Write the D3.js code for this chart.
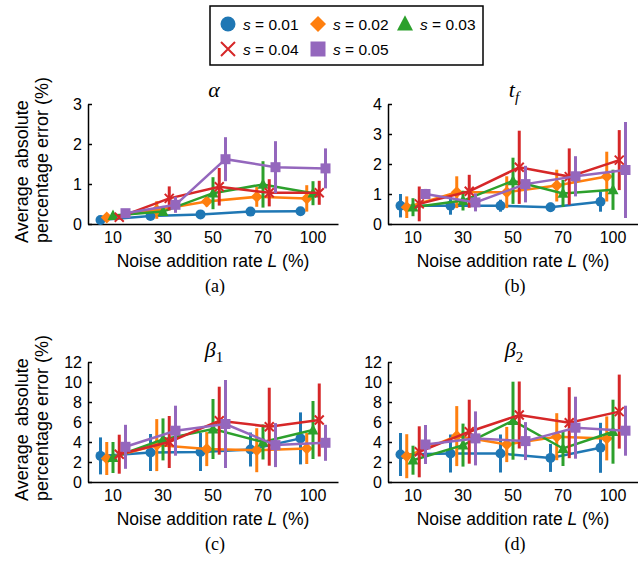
<!DOCTYPE html>
<html>
<head>
<meta charset="utf-8">
<script src="https://cdn.jsdelivr.net/npm/d3@7"></script>
<style>
  body { margin: 0; background: #fff; }
  svg text { font-family: "Liberation Sans", Arial, sans-serif; }
</style>
</head>
<body>
<svg width="638" height="565"></svg>
<script>
// Categories and series
var groups = ["10", "30", "50", "70", "100"];
var sValues = ["0.01", "0.02", "0.03", "0.04", "0.05"];
var colors = ["#1f77b4", "#ff7f0e", "#2ca02c", "#d62728", "#9467bd"];
var markers = ["circle", "diamond", "triangle", "cross", "square"];

// alpha (rows = s, cols = L)
var alphaMean = [
  [0.10, 0.20, 0.24, 0.31, 0.32],
  [0.16, 0.35, 0.56, 0.68, 0.64],
  [0.21, 0.31, 0.77, 0.99, 0.77],
  [0.17, 0.64, 0.93, 0.78, 0.78],
  [0.27, 0.48, 1.62, 1.42, 1.39]
];
var alphaErr = [
  [0.04, 0.05, 0.07, 0.10, 0.08],
  [0.06, 0.22, 0.12, 0.25, 0.33],
  [0.06, 0.10, 0.40, 0.58, 0.30],
  [0.05, 0.30, 0.47, 0.34, 0.30],
  [0.10, 0.20, 0.55, 0.65, 0.50]
];
// t_f
var tfMean = [
  [0.61, 0.61, 0.61, 0.56, 0.74],
  [0.56, 1.06, 1.06, 1.28, 1.58],
  [0.56, 0.78, 1.44, 1.02, 1.14],
  [0.67, 1.09, 1.89, 1.58, 2.13],
  [1.00, 0.72, 1.33, 1.59, 1.80]
];
var tfErr = [
  [0.39, 0.30, 0.20, 0.15, 0.33],
  [0.36, 0.53, 0.53, 0.53, 0.83],
  [0.30, 0.33, 0.77, 0.45, 0.67],
  [0.58, 0.55, 1.22, 0.94, 1.00],
  [0.17, 0.30, 0.61, 0.67, 1.60]
];
// beta_1
var beta1Mean = [
  [2.61, 2.95, 3.00, 3.25, 4.36],
  [2.35, 3.69, 3.29, 3.18, 3.35],
  [2.45, 4.26, 5.30, 4.00, 5.20],
  [2.78, 4.00, 6.13, 5.53, 6.20],
  [3.52, 5.13, 5.80, 3.69, 3.92]
];
var beta1Err = [
  [1.85, 1.85, 1.90, 1.70, 2.60],
  [1.65, 2.60, 1.70, 2.20, 1.55],
  [1.55, 2.10, 3.00, 1.75, 2.90],
  [1.95, 2.60, 3.40, 3.90, 3.65],
  [2.20, 2.50, 4.40, 2.20, 1.80]
];
// beta_2
var beta2Mean = [
  [2.75, 2.85, 2.85, 2.41, 3.42],
  [2.58, 4.59, 3.75, 4.53, 4.36],
  [2.18, 3.69, 6.13, 3.35, 5.03],
  [3.02, 5.03, 6.70, 5.93, 7.04],
  [3.75, 4.36, 4.09, 5.43, 5.13]
];
var beta2Err = [
  [2.15, 1.90, 1.90, 1.40, 2.50],
  [2.20, 3.00, 1.76, 2.35, 2.20],
  [1.45, 2.15, 3.90, 1.75, 3.20],
  [2.55, 3.20, 3.35, 3.55, 3.70],
  [1.95, 2.70, 1.90, 3.10, 2.50]
];

var svg = d3.select("svg");
var pw = 250, ph = 120;

var panels = [
  {x: 88, y: 104, mean: alphaMean, err: alphaErr, ymax: 3, ticks: [0, 1, 2, 3], title: "alpha", tag: "(a)", ylab: true},
  {x: 388, y: 104, mean: tfMean, err: tfErr, ymax: 4, ticks: [0, 1, 2, 3, 4], title: "tf", tag: "(b)", ylab: false},
  {x: 88, y: 362, mean: beta1Mean, err: beta1Err, ymax: 12, ticks: [0, 2, 4, 6, 8, 10, 12], title: "b1", tag: "(c)", ylab: true},
  {x: 388, y: 362, mean: beta2Mean, err: beta2Err, ymax: 12, ticks: [0, 2, 4, 6, 8, 10, 12], title: "b2", tag: "(d)", ylab: false}
];

var x0 = d3.scaleBand().domain(groups).range([0, pw]).padding(0);
var xOff = d3.scalePoint().domain(sValues).range([-12.5, 12.5]);

// marker shapes, r = half width
function markerPath(type, r) {
  if (type === "cross") {
    return "M" + (-r) + "," + (-r) + "L" + r + "," + r + "M" + (-r) + "," + r + "L" + r + "," + (-r);
  }
  if (type === "diamond") {
    return "M0," + (-r) + "L" + r + ",0L0," + r + "L" + (-r) + ",0Z";
  }
  if (type === "square") {
    return "M" + (-r) + "," + (-r) + "H" + r + "V" + r + "H" + (-r) + "Z";
  }
  if (type === "triangle") {
    return "M0," + (-r * 1.1) + "L" + r + "," + (r * 0.8) + "L" + (-r) + "," + (r * 0.8) + "Z";
  }
  return d3.symbol().type(d3.symbolCircle).size(Math.PI * r * r)();
}
var plotR = {circle: 5, diamond: 6, triangle: 5.5, cross: 4.5, square: 5};
var legR = {circle: 7.5, diamond: 8, triangle: 8, cross: 7, square: 7.5};

panels.forEach(function(p) {
  var g = svg.append("g").attr("transform", "translate(" + p.x + "," + p.y + ")");
  var y = d3.scaleLinear().domain([0, p.ymax]).range([ph, 0]);

  // axes
  var xa = g.append("g").attr("transform", "translate(0," + ph + ")")
    .call(d3.axisBottom(x0).tickSize(0).tickPadding(8));
  var ya = g.append("g")
    .call(d3.axisLeft(y).tickValues(p.ticks).tickFormat(d3.format("d"))
      .tickSizeInner(-4).tickSizeOuter(0).tickPadding(6));
  [xa, ya].forEach(function(a) {
    a.selectAll("text").attr("font-size", 16).attr("fill", "#000")
      .style("font-family", "'Liberation Sans', Arial, sans-serif");
    a.selectAll("path, line").attr("stroke", "#000").attr("stroke-width", 1.5);
  });

  // series
  sValues.forEach(function(s, i) {
    var pts = groups.map(function(gr, j) {
      return {x: x0(gr) + x0.bandwidth() / 2 + xOff(s), m: p.mean[i][j], e: p.err[i][j]};
    });
    var sg = g.append("g");
    sg.append("path").datum(pts)
      .attr("fill", "none").attr("stroke", colors[i]).attr("stroke-width", 2.5)
      .attr("d", d3.line().x(function(d) { return d.x; }).y(function(d) { return y(d.m); }));
    sg.selectAll(".eb").data(pts).enter().append("line")
      .attr("x1", function(d) { return d.x; }).attr("x2", function(d) { return d.x; })
      .attr("y1", function(d) { return y(d.m - d.e); })
      .attr("y2", function(d) { return y(d.m + d.e); })
      .attr("stroke", colors[i]).attr("stroke-width", 3);
    sg.selectAll(".mk").data(pts).enter().append("path")
      .attr("transform", function(d) { return "translate(" + d.x + "," + y(d.m) + ")"; })
      .attr("d", markerPath(markers[i], plotR[markers[i]]))
      .attr("fill", markers[i] === "cross" ? "none" : colors[i])
      .attr("stroke", markers[i] === "cross" ? colors[i] : "none")
      .attr("stroke-width", 2);
  });

  // title
  var t = g.append("text").attr("x", pw / 2 + 1).attr("y", p.title[0] === "b" ? -5 : -7)
    .attr("text-anchor", "middle").attr("font-size", 22)
    .style("font-family", "'Liberation Serif', 'DejaVu Serif', serif");
  if (p.title === "alpha") {
    t.append("tspan").attr("font-style", "italic").text("α");
  } else if (p.title === "tf") {
    t.append("tspan").attr("font-style", "italic").text("t");
    t.append("tspan").attr("font-style", "italic").attr("font-size", 15).attr("dy", 5).text("f");
  } else {
    t.append("tspan").attr("font-style", "italic").text("β");
    t.append("tspan").attr("font-size", 15).attr("dy", 5).text(p.title[1]);
  }

  // x label
  var xl = g.append("text").attr("x", pw / 2).attr("y", ph + 43)
    .attr("text-anchor", "middle").attr("font-size", 17.5);
  xl.append("tspan").text("Noise addition rate ");
  xl.append("tspan").attr("font-style", "italic").text("L");
  xl.append("tspan").text(" (%)");

  // y label
  if (p.ylab) {
    var yb = ph + 19;
    g.append("text").attr("transform", "translate(" + (28 - p.x) + "," + yb + ") rotate(-90)")
      .attr("font-size", 18).style("word-spacing", "3px").text("Average absolute");
    g.append("text").attr("transform", "translate(" + (47.5 - p.x) + "," + yb + ") rotate(-90)")
      .attr("font-size", 18).text("percentage error (%)");
  }

  // tag
  g.append("text").attr("x", pw / 2 + 2).attr("y", ph + 68)
    .attr("text-anchor", "middle").attr("font-size", 18)
    .style("font-family", "'Liberation Serif', 'DejaVu Serif', serif")
    .text(p.tag);
});

// legend
var lg = svg.append("g");
lg.append("rect").attr("x", 210).attr("y", 6).attr("width", 273).attr("height", 59)
  .attr("fill", "#fff").attr("stroke", "#000").attr("stroke-width", 1.5);
var legPos = [[228, 24], [318, 24], [405, 24], [228, 49], [318, 49]];
sValues.forEach(function(s, i) {
  var px = legPos[i][0], py = legPos[i][1];
  lg.append("path").attr("transform", "translate(" + px + "," + py + ")")
    .attr("d", markerPath(markers[i], legR[markers[i]]))
    .attr("fill", markers[i] === "cross" ? "none" : colors[i])
    .attr("stroke", markers[i] === "cross" ? colors[i] : "none")
    .attr("stroke-width", 2);
  var tx = lg.append("text").attr("x", px + 15).attr("y", py + 5.5).attr("font-size", 15.5);
  tx.append("tspan").attr("font-style", "italic").text("s");
  tx.append("tspan").text(" = " + s);
});
</script>
</body>
</html>
